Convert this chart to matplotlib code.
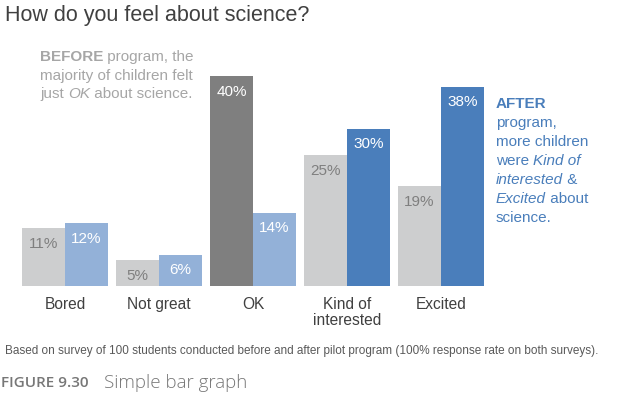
import matplotlib
matplotlib.use("Agg")
import matplotlib.pyplot as plt
import numpy as np

plt.rcParams['font.family'] = ['Liberation Sans', 'DejaVu Sans']

categories = ['Bored', 'Not great', 'OK', 'Kind of\ninterested', 'Excited']
before = [11, 5, 40, 25, 19]
after = [12, 6, 14, 30, 38]

light_gray = '#CDCECF'
dark_gray = '#7F7F7F'
light_blue = '#93B1D8'
dark_blue = '#4A7EBB'
before_colors = [light_gray, light_gray, dark_gray, light_gray, light_gray]
after_colors = [light_blue, light_blue, light_blue, dark_blue, dark_blue]
before_text = ['#7F7F7F', '#7F7F7F', 'white', '#7F7F7F', '#7F7F7F']

W, H = 617, 398
fig = plt.figure(figsize=(W / 100, H / 100), dpi=100)

# axes placed in pixels: baseline at y=286, 40% at y=76
ax = fig.add_axes([18 / W, (H - 286) / H, 470 / W, 210 / H])
ax.set_xlim(-0.5, 4.5)
ax.set_ylim(0, 40)
ax.axis('off')

x = np.arange(len(categories))
w = 0.46
ax.bar(x - w / 2, before, w, color=before_colors)
ax.bar(x + w / 2, after, w, color=after_colors)

for i in range(len(x)):
    ax.annotate(f'{before[i]}%', (x[i] - w / 2, before[i]), xytext=(0, -11.5),
                textcoords='offset points', ha='center', va='center',
                fontsize=11, color=before_text[i])
    ax.annotate(f'{after[i]}%', (x[i] + w / 2, after[i]), xytext=(0, -11.5),
                textcoords='offset points', ha='center', va='center',
                fontsize=11, color='white')
    ax.annotate(categories[i], (x[i], 0), xytext=(0, -8),
                textcoords='offset points', ha='center', va='top',
                fontsize=11.2, color='#404040', linespacing=1.1)

fig.text(5 / W, 1 - 16 / H, 'How do you feel about science?', fontsize=15.5,
         color='#404040', va='center', ha='left')


def rich_line(px, py, parts, color, size=11):
    # draw text segments side by side, measuring each one
    r = fig.canvas.get_renderer()
    cur = px
    for s, style in parts:
        kw = {}
        if style == 'b':
            kw['fontweight'] = 'bold'
        elif style == 'i':
            kw['fontstyle'] = 'italic'
        t = fig.text(cur / W, 1 - py / H, s, fontsize=size, color=color,
                     va='center', ha='left', **kw)
        cur = t.get_window_extent(r).x1


ann_gray = '#A6A6A6'
left_lines = [
    [('BEFORE', 'b'), (' program, the', '')],
    [('majority of children felt', '')],
    [('just ', ''), ('OK', 'i'), (' about science.', '')],
]
for k, parts in enumerate(left_lines):
    rich_line(40, 57 + 18.7 * k, parts, ann_gray)

right_lines = [
    [('AFTER', 'b')],
    [('program,', '')],
    [('more children', '')],
    [('were ', ''), ('Kind of', 'i')],
    [('interested', 'i'), (' &', '')],
    [('Excited', 'i'), (' about', '')],
    [('science.', '')],
]
for k, parts in enumerate(right_lines):
    rich_line(496, 104 + 19 * k, parts, dark_blue)

fig.text(5 / W, 1 - 351 / H,
         'Based on survey of 100 students conducted before and after pilot program (100% response rate on both surveys).',
         fontsize=8.5, color='#595959', va='center', ha='left')

t1 = fig.text(1 / W, 1 - 383 / H, 'FIGURE 9.30', fontsize=11, color='#777777',
              fontfamily='Open Sans', fontweight='semibold', va='center', ha='left')
fig.text(104 / W, 1 - 383 / H, 'Simple bar graph',
         fontsize=13.5, color='#777777', fontfamily='Open Sans', fontweight='light',
         va='center', ha='left')

fig.savefig('out.png', dpi=100)
